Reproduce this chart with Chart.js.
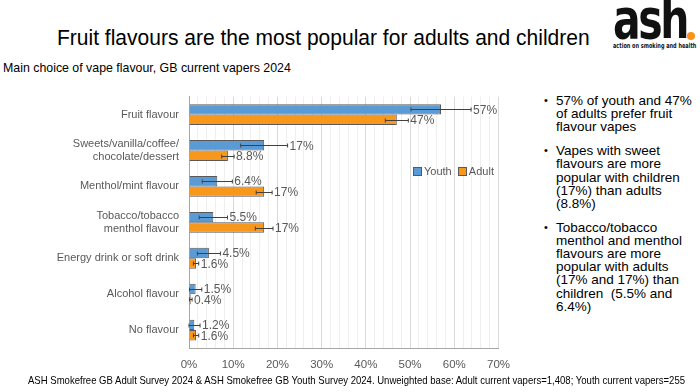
<!DOCTYPE html>
<html>
<head>
<meta charset="utf-8">
<script src="https://cdn.jsdelivr.net/npm/chart.js@4/dist/chart.umd.min.js"></script>
<style>
  body { margin: 0; width: 700px; height: 392px; background: #fff; position: relative; overflow: hidden; font-family: "Liberation Sans", Arial, sans-serif; }
  .fit { position: absolute; white-space: nowrap; transform-origin: left top; }
  #title { left: 57px; top: 25px; font-size: 22px; color: #000; }
  #subtitle { left: 3px; top: 60px; font-size: 13px; color: #000; }
  #footer { left: 28px; top: 374px; font-size: 11px; color: #000; }
  #ash { left: 613px; top: -9px; font-family: "DejaVu Sans Condensed", "DejaVu Sans", sans-serif; font-weight: bold; font-size: 56px; line-height: 56px; color: #111; letter-spacing: -3px; }
  #ashDot { position: absolute; left: 687px; top: 32px; width: 8px; height: 8px; border-radius: 50%; background: #f7941d; }
  #ashSmall { left: 613px; top: 42px; font-family: "DejaVu Sans Condensed", sans-serif; font-weight: bold; font-size: 7px; color: #111; }
  #chartBox { position: absolute; left: 0; top: 80px; width: 520px; height: 298px; }
  #legend { position: absolute; left: 413px; top: 165px; font-size: 11px; color: #595959; white-space: nowrap; }
  #legend span.box { display: inline-block; width: 7px; height: 7px; border: 1px solid #595959; vertical-align: -1px; margin-right: 2px; }
  #bullets { position: absolute; left: 540px; top: 94px; font-size: 13.5px; line-height: 13.2px; color: #000; }
  #bullets .b { position: relative; padding-left: 16px; margin-bottom: 10.5px; white-space: nowrap; }
  #bullets .b:before { content: "\2022"; position: absolute; left: 4px; top: 0; font-size: 11px; }
</style>
</head>
<body>
<div id="title" class="fit" data-w="533">Fruit flavours are the most popular for adults and children</div>
<div id="subtitle" class="fit" data-w="288">Main choice of vape flavour, GB current vapers 2024</div>
<div id="ash" class="fit" data-w="74">ash</div>
<div id="ashDot"></div>
<div id="ashSmall" class="fit" data-w="83">action on smoking and health</div>
<div id="chartBox"><canvas id="flavourChart" width="520" height="298"></canvas></div>
<div id="legend"><span class="box" style="background:#5b9bd5"></span>Youth &nbsp;<span class="box" style="background:#f7971c"></span>Adult</div>
<div id="bullets">
  <div class="b">57% of youth and 47%<br>of adults prefer fruit<br>flavour vapes</div>
  <div class="b">Vapes with sweet<br>flavours are more<br>popular with children<br>(17%) than adults<br>(8.8%)</div>
  <div class="b">Tobacco/tobacco<br>menthol and menthol<br>flavours are more<br>popular with adults<br>(17% and 17%) than<br>children&nbsp; (5.5% and<br>6.4%)</div>
</div>
<div id="footer" class="fit" data-w="657">ASH Smokefree GB Adult Survey 2024 &amp; ASH Smokefree GB Youth Survey 2024. Unweighted base: Adult current vapers=1,408; Youth current vapers=255</div>

<script>
const categories = [
  "Fruit flavour",
  ["Sweets/vanilla/coffee/", "chocolate/dessert"],
  "Menthol/mint flavour",
  ["Tobacco/tobacco", "menthol flavour"],
  "Energy drink or soft drink",
  "Alcohol flavour",
  "No flavour"
];
const youth = [57, 17, 6.4, 5.5, 4.5, 1.5, 1.2];
const adult = [47, 8.8, 17, 17, 1.6, 0.4, 1.6];
// half-width of the confidence interval
const youthErr = [6.8, 5.3, 3.4, 3.2, 2.6, 1.4, 1.3];
const adultErr = [2.6, 1.4, 1.8, 2.0, 0.6, 0.3, 0.6];

const BLUE = "#5b9bd5";
const ORANGE = "#f7971c";
const GREY = "#595959";

// squeeze plain text to the width it has in the slide
document.querySelectorAll(".fit").forEach(el => {
  const w = +el.dataset.w;
  el.style.transform = `scaleX(${w / el.scrollWidth})`;
});

const errBars = {
  id: "errBars",
  afterDatasetsDraw(chart) {
    const ctx = chart.ctx;
    const x = chart.scales.x;
    const errs = [youthErr, adultErr];
    ctx.save();
    ctx.strokeStyle = "#404040";
    ctx.lineWidth = 1;
    chart.data.datasets.forEach((ds, di) => {
      chart.getDatasetMeta(di).data.forEach((bar, i) => {
        const lo = x.getPixelForValue(Math.max(0, ds.data[i] - errs[di][i]));
        const hi = x.getPixelForValue(ds.data[i] + errs[di][i]);
        const y = Math.round(bar.y) + 0.5;
        ctx.beginPath();
        ctx.moveTo(lo, y); ctx.lineTo(hi, y);
        ctx.moveTo(lo, y - 2); ctx.lineTo(lo, y + 2);
        ctx.moveTo(hi, y - 2); ctx.lineTo(hi, y + 2);
        ctx.stroke();
      });
    });
    ctx.restore();
  }
};

const valueLabels = {
  id: "valueLabels",
  afterDatasetsDraw(chart) {
    const ctx = chart.ctx;
    const x = chart.scales.x;
    const errs = [youthErr, adultErr];
    ctx.save();
    ctx.font = "12px 'Liberation Sans', Arial, sans-serif";
    ctx.fillStyle = GREY;
    ctx.textBaseline = "middle";
    chart.data.datasets.forEach((ds, di) => {
      chart.getDatasetMeta(di).data.forEach((bar, i) => {
        const px = x.getPixelForValue(ds.data[i] + errs[di][i]) + 2;
        ctx.fillText(ds.data[i] + "%", px, bar.y + 1);
      });
    });
    ctx.restore();
  }
};

new Chart(document.getElementById("flavourChart"), {
  type: "bar",
  data: {
    labels: categories,
    datasets: [
      { label: "Youth", data: youth, backgroundColor: BLUE, borderColor: GREY, borderWidth: 1 },
      { label: "Adult", data: adult, backgroundColor: ORANGE, borderColor: GREY, borderWidth: 1 }
    ]
  },
  options: {
    indexAxis: "y",
    responsive: false,
    animation: false,
    maintainAspectRatio: false,
    categoryPercentage: 0.58,
    barPercentage: 1,
    layout: { padding: { top: 0, right: 16, left: 0, bottom: 0 } },
    plugins: {
      legend: { display: false },
      tooltip: { enabled: false }
    },
    scales: {
      x: {
        min: 0,
        max: 70,
        ticks: {
          stepSize: 2,
          autoSkip: false,
          maxRotation: 0,
          padding: 10,
          color: GREY,
          font: { size: 11.5, family: "'Liberation Sans', Arial, sans-serif" },
          callback: v => (v % 10 === 0 ? v + "%" : "")
        },
        grid: {
          drawTicks: false,
          color: ctx => (ctx.tick && ctx.tick.value % 10 === 0 ? "#d9d9d9" : "#efefef")
        },
        border: { color: "#a6a6a6" },
        afterFit: s => { s.height = 30; }
      },
      y: {
        ticks: {
          padding: 10,
          color: GREY,
          font: { size: 11, family: "'Liberation Sans', Arial, sans-serif" }
        },
        grid: { display: false, drawTicks: false },
        border: { color: "#a6a6a6" },
        afterFit: s => { s.width = 189; }
      }
    }
  },
  plugins: [errBars, valueLabels]
});
</script>
</body>
</html>
